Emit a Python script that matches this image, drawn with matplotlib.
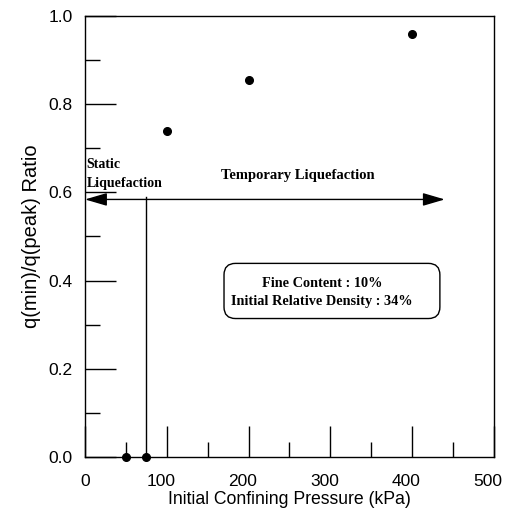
import matplotlib
matplotlib.use('Agg')
import matplotlib.pyplot as plt
import matplotlib.transforms as mtransforms
from matplotlib.patches import FancyBboxPatch
from matplotlib.ticker import MultipleLocator

# data
pressure = [50, 75, 100, 200, 400]
ratio = [0.0, 0.0, 0.74, 0.855, 0.96]
x_ticks = [0, 100, 200, 300, 400, 500]
y_ticks = [0.0, 0.2, 0.4, 0.6, 0.8, 1.0]

arrow_y = 0.584
arrow_x = (0, 440)
split_x = 75

sans = ['Liberation Sans', 'DejaVu Sans']
narrow = ['Liberation Sans Narrow', 'Liberation Sans', 'DejaVu Sans']
serif = ['Liberation Serif', 'DejaVu Serif']

fig = plt.figure(figsize=(5.06, 5.15), dpi=100)
ax = fig.add_axes([0.168, 0.1126, 0.808, 0.8564])

ax.plot(pressure, ratio, 'o', color='black', markersize=5.5, clip_on=False, zorder=5)

# double arrow + divider line
ax.annotate('', xy=(arrow_x[1], arrow_y), xytext=(arrow_x[0], arrow_y),
            arrowprops=dict(arrowstyle='<|-|>,head_length=0.75,head_width=0.22',
                            color='black', lw=1.0, mutation_scale=18,
                            shrinkA=0, shrinkB=0))
ax.plot([split_x, split_x], [0, 0.59], color='black', lw=1.0)

ax.text(2, 0.677, 'Static\nLiquefaction', family=serif, fontweight='bold',
        fontsize=10, ha='left', va='top', linespacing=1.55)
ax.text(260, 0.638, 'Temporary Liquefaction', family=serif, fontweight='bold',
        fontsize=10.5, ha='center', va='center')

# rounded info box (a bit wider on the right than the text)
# aspect: data units per pixel in y over x, so the corners come out round
box = FancyBboxPatch((170, 0.314), 264, 0.125,
                     boxstyle='round,pad=0,rounding_size=14',
                     mutation_aspect=0.00227 / 1.225,
                     fc='white', ec='black', lw=1.0, zorder=3)
ax.add_patch(box)
ax.text(290, 0.374, 'Fine Content : 10%\nInitial Relative Density : 34%',
        family=serif, fontweight='bold', fontsize=10.3, ha='center', va='center',
        linespacing=1.5, zorder=4)

ax.set_xlim(0, 500)
ax.set_ylim(0, 1.0)
ax.set_xticks(x_ticks)
ax.set_yticks(y_ticks)
ax.xaxis.set_minor_locator(MultipleLocator(50))
ax.yaxis.set_minor_locator(MultipleLocator(0.1))
ax.set_yticklabels([f'{v:.1f}' for v in y_ticks])
ax.tick_params(which='major', direction='in', length=22, width=1.0,
               labelsize=12.5, pad=9)
ax.tick_params(which='minor', direction='in', length=11, width=1.0)
ax.tick_params(axis='x', pad=12)
for lab in ax.get_xticklabels() + ax.get_yticklabels():
    lab.set_family(narrow)

# x labels sit a little left of their ticks in the original
shift = mtransforms.ScaledTranslation(-6 / 100, 0, fig.dpi_scale_trans)
for lab in ax.get_xticklabels()[1:]:
    lab.set_transform(lab.get_transform() + shift)

for s in ax.spines.values():
    s.set_linewidth(1.0)

ax.set_xlabel('Initial Confining Pressure (kPa)', family=sans, fontsize=12.7, labelpad=2)
ax.set_ylabel('q(min)/q(peak) Ratio', family=sans, fontsize=14.5, labelpad=5)

fig.savefig('out.png', dpi=100)
